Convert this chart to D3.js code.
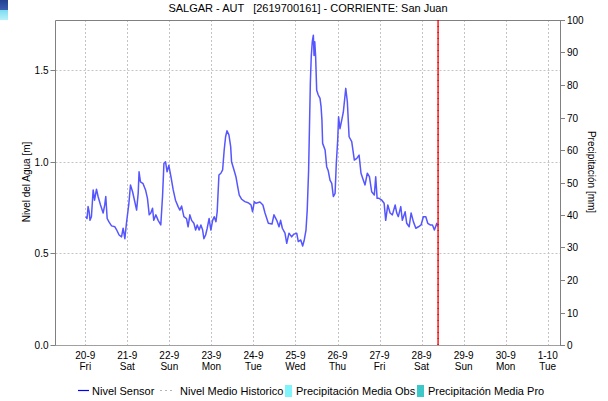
<!DOCTYPE html>
<html>
<head>
<meta charset="utf-8">
<script src="https://cdn.jsdelivr.net/npm/d3@7"></script>
<style>
  html, body { margin: 0; padding: 0; background: #fff; }
  svg { display: block; font-family: "Liberation Sans", Arial, sans-serif; }
</style>
</head>
<body>
<svg id="chart" width="608" height="401"></svg>
<script>
// Station and series
const titulo = "SALGAR - AUT   [2619700161] - CORRIENTE: San Juan";
const inicio = new Date(2019, 8, 20, 0, 0);           // 20-9 00:00, origin of `horas`
const ahora = 201.4;                                   // current time, hours after origin

// Sensor water level: hours after 20-9 00:00 and level in metres
const horas = [
  0.3, 1.0, 1.6, 2.2, 2.7, 3.5, 4.5, 5.3, 6.4, 7.3, 8.7, 10.2, 11.1, 11.7, 12.5, 13.6, 15.0, 16.9, 17.8, 19.3,
  20.7, 21.6, 22.6, 23.5, 24.9, 25.8, 27.0, 28.3, 29.3, 30.2, 30.7, 31.5, 33.0, 34.4, 35.5, 36.5, 37.4, 38.4, 39.1, 40.3,
  41.6, 43.1, 44.1, 44.9, 45.8, 46.7, 47.7, 48.9, 50.2, 51.5, 53.0, 54.0, 55.0, 56.3, 57.8, 58.7, 59.7, 60.7, 62.0, 63.0,
  63.9, 65.0, 66.0, 67.0, 67.7, 68.7, 69.6, 70.7, 71.7, 72.7, 73.6, 74.6, 75.3, 76.3, 77.4, 78.4, 79.3, 80.1, 80.9, 82.0,
  83.0, 83.5, 84.9, 86.0, 87.0, 87.9, 89.3, 91.1, 93.0, 94.6, 95.5, 96.5, 97.4, 99.7, 101.4, 102.6, 104.5, 106.6, 107.7, 109.3,
  110.6, 111.5, 112.5, 114.0, 115.0, 116.3, 117.8, 119.1, 120.7, 121.6, 123.0, 124.1, 125.0, 126.0, 126.7, 127.5, 128.1, 128.5, 129.0, 129.6,
  130.2, 130.6, 131.0, 131.5, 132.1, 133.0, 134.0, 134.6, 135.1, 135.5, 136.9, 137.8, 138.7, 139.7, 140.7, 141.6, 142.6, 143.3, 144.1, 144.6,
  145.4, 146.4, 147.3, 148.7, 149.6, 150.6, 152.1, 153.6, 155.0, 156.3, 157.4, 158.7, 159.7, 161.0, 162.2, 163.5, 165.0, 165.8, 166.6, 167.7,
  169.3, 170.6, 171.5, 172.7, 174.0, 175.3, 176.9, 177.8, 178.7, 180.1, 181.0, 182.6, 183.5, 184.9, 186.0, 187.3, 188.7, 190.2, 191.7, 193.0,
  194.4, 195.5, 196.9, 198.2, 199.3, 200.7, 201.3
];
const nivel = [
  0.70, 0.69, 0.755, 0.727, 0.68, 0.70, 0.846, 0.79, 0.85, 0.81, 0.764, 0.72, 0.764, 0.81, 0.69, 0.67, 0.65, 0.645, 0.63, 0.60,
  0.59, 0.637, 0.58, 0.664, 0.773, 0.873, 0.836, 0.78, 0.736, 0.827, 0.945, 0.89, 0.88, 0.846, 0.80, 0.71, 0.72, 0.746, 0.68, 0.71,
  0.68, 0.655, 0.81, 0.99, 1.0, 0.945, 0.98, 0.918, 0.846, 0.79, 0.755, 0.736, 0.758, 0.70, 0.69, 0.645, 0.71, 0.68, 0.664, 0.627,
  0.655, 0.627, 0.655, 0.627, 0.58, 0.60, 0.637, 0.69, 0.627, 0.68, 0.70, 0.673, 0.727, 0.927, 0.937, 0.955, 1.064, 1.136, 1.169, 1.146,
  1.082, 1.0, 0.955, 0.918, 0.864, 0.818, 0.795, 0.782, 0.776, 0.764, 0.727, 0.782, 0.773, 0.78, 0.764, 0.72, 0.664, 0.66, 0.71, 0.68,
  0.645, 0.68, 0.637, 0.61, 0.555, 0.61, 0.59, 0.605, 0.61, 0.564, 0.573, 0.54, 0.573, 0.627, 0.736, 0.955, 1.245, 1.436, 1.573, 1.655,
  1.69, 1.58, 1.655, 1.573, 1.39, 1.364, 1.345, 1.30, 1.227, 1.10, 1.064, 0.973, 0.95, 0.90, 0.882, 0.81, 0.827, 0.99, 1.118, 1.245,
  1.18, 1.227, 1.27, 1.40, 1.327, 1.136, 1.109, 1.009, 1.018, 1.036, 0.937, 0.90, 0.873, 0.937, 0.918, 0.836, 0.818, 0.918, 0.80, 0.80,
  0.79, 0.773, 0.68, 0.764, 0.72, 0.71, 0.764, 0.72, 0.70, 0.755, 0.68, 0.727, 0.664, 0.645, 0.72, 0.673, 0.637, 0.645, 0.655, 0.70,
  0.70, 0.664, 0.655, 0.655, 0.627, 0.664, 0.645
];

// Axis ticks
const ticksNivel = [0, 0.5, 1.0, 1.5];
const ticksPrecip = [0, 10, 20, 30, 40, 50, 60, 70, 80, 90, 100];

// Legend entries
const leyenda = [
  { nombre: "Nivel Sensor", tipo: "linea" },
  { nombre: "Nivel Medio Historico", tipo: "discontinua" },
  { nombre: "Precipitación Media Obs", tipo: "barra", color: "#7ff4fa" },
  { nombre: "Precipitación Media Pro", tipo: "barra", color: "#3cc8c8" }
];

const svg = d3.select("#chart");
const L = 55.5, R = 560, T = 20, B = 345;

const x = d3.scaleTime()
  .domain([new Date(2019, 8, 19, 7), new Date(2019, 9, 1, 7)])
  .range([L, R]);
const yN = d3.scaleLinear().domain([0, 1.773]).range([B, T]);
const yP = d3.scaleLinear().domain([0, 100]).range([B, T]);

const dias = d3.timeDay.range(new Date(2019, 8, 20), new Date(2019, 9, 2));

// Logo block in the corner
const grad = svg.append("defs").append("linearGradient")
  .attr("id", "logo").attr("x1", 0).attr("y1", 0).attr("x2", 0).attr("y2", 1);
grad.append("stop").attr("offset", "0%").attr("stop-color", "#22408e");
grad.append("stop").attr("offset", "48%").attr("stop-color", "#3a5cb0");
grad.append("stop").attr("offset", "52%").attr("stop-color", "#7fdcef");
grad.append("stop").attr("offset", "100%").attr("stop-color", "#b8f2fb");
svg.append("rect").attr("x", 0).attr("y", 0).attr("width", 8).attr("height", 20).attr("fill", "url(#logo)");

// Title
svg.append("text")
  .attr("x", 308).attr("y", 12)
  .attr("text-anchor", "middle")
  .style("white-space", "pre")
  .attr("font-size", 11)
  .text(titulo);

// Grid
const grid = svg.append("g").attr("stroke", "#c4c4c4").attr("stroke-dasharray", "2,2").attr("stroke-width", 1);
grid.selectAll("line.v").data(dias).join("line")
  .attr("x1", d => Math.round(x(d)) + 0.5).attr("x2", d => Math.round(x(d)) + 0.5)
  .attr("y1", T).attr("y2", B);
grid.selectAll("line.h").data(ticksNivel.filter(d => d > 0)).join("line")
  .attr("x1", L).attr("x2", R)
  .attr("y1", d => Math.round(yN(d)) + 0.5).attr("y2", d => Math.round(yN(d)) + 0.5);

// Frame: solid left, top and right, dotted baseline
const frame = svg.append("g").attr("stroke", "#808080").attr("fill", "none");
frame.append("path").attr("d", `M${L},${B}V${T + 0.5}H${R + 0.5}V${B}`);
svg.append("line").attr("x1", L).attr("x2", R).attr("y1", B + 0.5).attr("y2", B + 0.5)
  .attr("stroke", "#404040").attr("stroke-dasharray", "1,1");

// Left axis
const axL = svg.append("g").attr("font-size", 10);
ticksNivel.forEach(v => {
  const yy = Math.round(yN(v)) + 0.5;
  axL.append("line").attr("x1", L - 5).attr("x2", L).attr("y1", yy).attr("y2", yy).attr("stroke", "#808080");
  axL.append("text").attr("x", L - 7).attr("y", yy + 3.5).attr("text-anchor", "end").text(d3.format(".1f")(v));
});
svg.append("text")
  .attr("transform", "translate(30,182) rotate(-90)")
  .attr("text-anchor", "middle").attr("font-size", 10)
  .text("Nivel del Agua [m]");

// Right axis
const axR = svg.append("g").attr("font-size", 10);
ticksPrecip.forEach(v => {
  const yy = Math.round(yP(v)) + 0.5;
  axR.append("line").attr("x1", R).attr("x2", R + 5).attr("y1", yy).attr("y2", yy).attr("stroke", "#808080");
  axR.append("text").attr("x", R + 7).attr("y", yy + 3.5).attr("text-anchor", "start").text(v);
});
svg.append("text")
  .attr("transform", "translate(588,172) rotate(90)")
  .attr("text-anchor", "middle").attr("font-size", 10)
  .text("Precipitación [mm]");

// Bottom axis: date and weekday
const fDia = d3.timeFormat("%-d-%-m");
const fSem = d3.timeFormat("%a");
const axB = svg.append("g").attr("font-size", 10).attr("text-anchor", "middle");
axB.selectAll("text.d").data(dias).join("text")
  .attr("x", d => x(d)).attr("y", 359).text(d => fDia(d));
axB.selectAll("text.w").data(dias).join("text")
  .attr("x", d => x(d)).attr("y", 370).text(d => fSem(d));

// Water level line
const serie = horas.map((h, i) => ({ t: new Date(+inicio + h * 3600e3), v: nivel[i] }));
const linea = d3.line().x(d => x(d.t)).y(d => yN(d.v));
svg.append("path").datum(serie)
  .attr("d", linea)
  .attr("fill", "none")
  .attr("stroke", "#5656ff")
  .attr("stroke-width", 1.5)
  .attr("stroke-linejoin", "round");

// Current time marker
const xa = x(new Date(+inicio + ahora * 3600e3));
svg.append("line").attr("x1", xa).attr("x2", xa).attr("y1", T).attr("y2", B)
  .attr("stroke", "#ff2a2a").attr("stroke-width", 1.6);
svg.append("line").attr("x1", xa).attr("x2", xa).attr("y1", T).attr("y2", B)
  .attr("stroke", "#a00000").attr("stroke-width", 1).attr("stroke-dasharray", "1,5");

// Legend
const lg = svg.append("g").attr("font-size", 11);
const posLeyenda = [78, 160, 285, 417];
leyenda.forEach((e, i) => {
  const x0 = posLeyenda[i], yy = 391;
  if (e.tipo === "linea") {
    lg.append("line").attr("x1", x0).attr("x2", x0 + 11).attr("y1", yy - 0.5).attr("y2", yy - 0.5)
      .attr("stroke", "#0000ff").attr("stroke-width", 1.2);
    lg.append("text").attr("x", x0 + 14).attr("y", yy + 4).text(e.nombre);
  } else if (e.tipo === "discontinua") {
    lg.append("line").attr("x1", x0).attr("x2", x0 + 15).attr("y1", yy - 0.5).attr("y2", yy - 0.5)
      .attr("stroke", "#b4b4b4").attr("stroke-width", 1).attr("stroke-dasharray", "2,3");
    lg.append("text").attr("x", x0 + 20).attr("y", yy + 4).text(e.nombre);
  } else {
    lg.append("rect").attr("x", x0).attr("y", yy - 6).attr("width", 7).attr("height", 12).attr("fill", e.color);
    lg.append("text").attr("x", x0 + 11).attr("y", yy + 4).text(e.nombre);
  }
});
</script>
</body>
</html>
